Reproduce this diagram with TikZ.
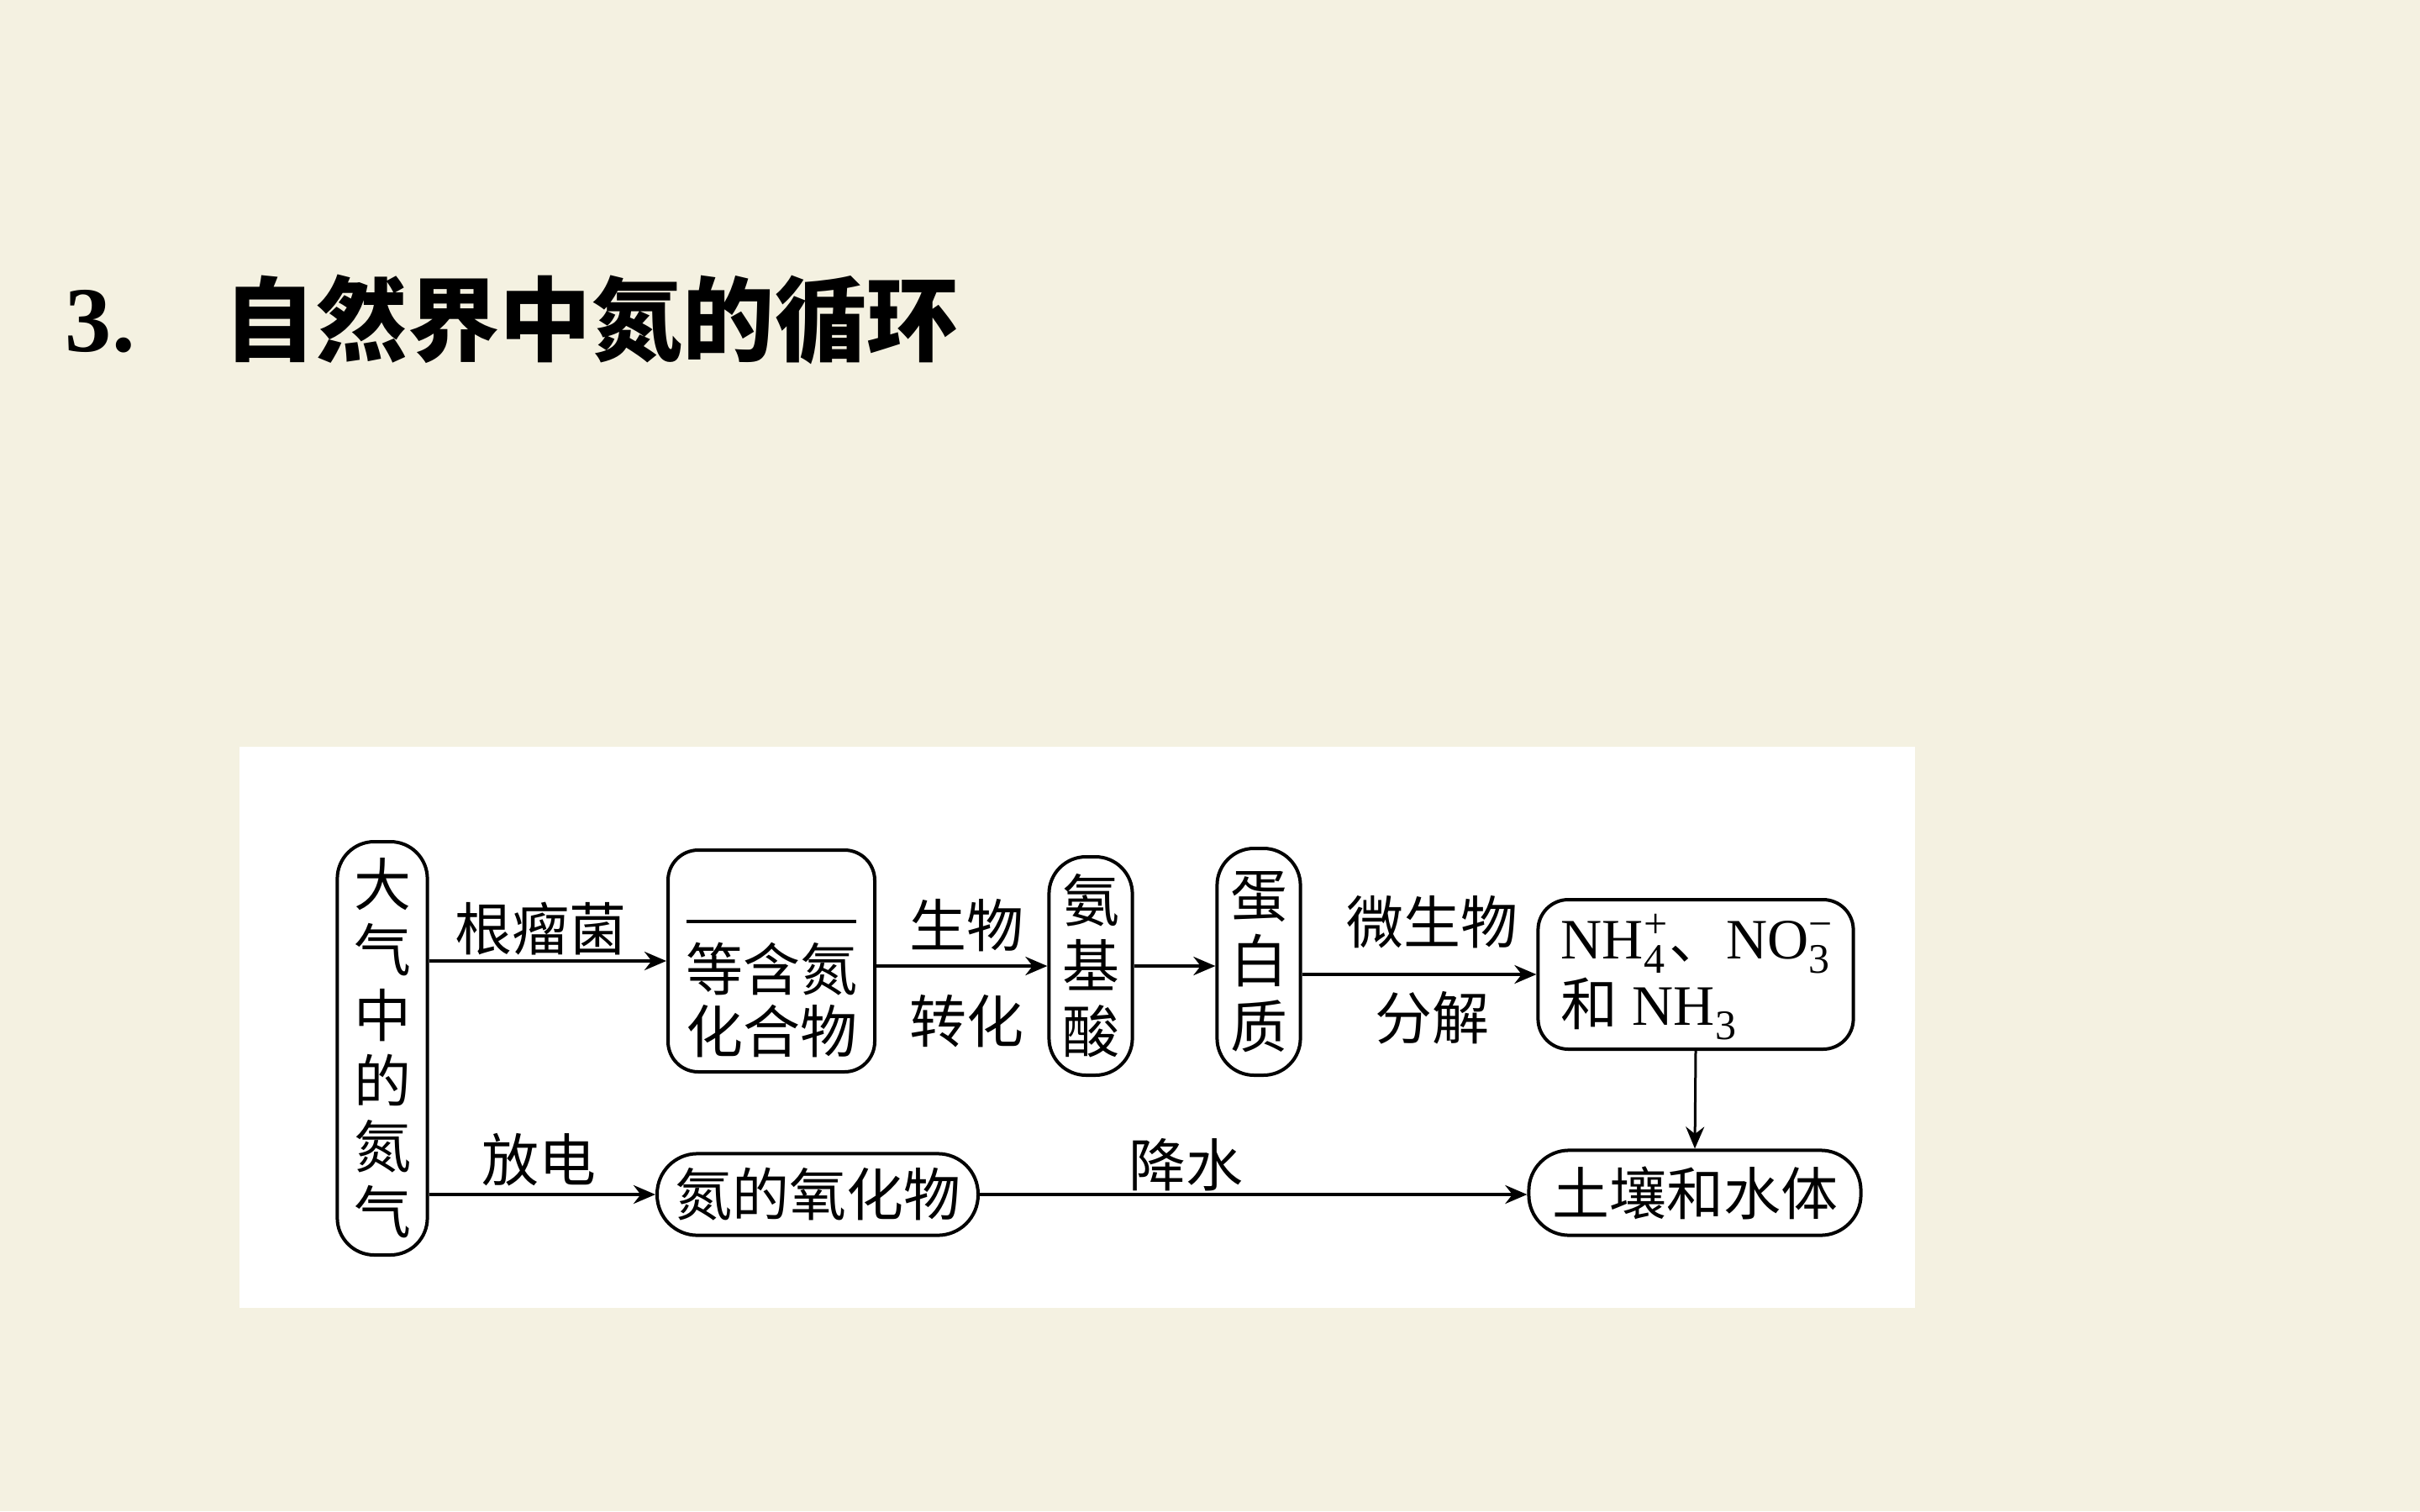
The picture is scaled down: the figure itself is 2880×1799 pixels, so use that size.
\documentclass[tikz,border=0pt]{standalone}
\usepackage{fontspec}
\setmainfont{Liberation Serif}
\newfontfamily\cjk{Noto Sans CJK SC}
\usetikzlibrary{arrows.meta}
\definecolor{bgc}{RGB}{244,241,225}
\newcommand\ionss[2]{\ensuremath{_{\hbox{\fontsize{12.5}{12.5}\selectfont#1}}^{\hbox{\fontsize{12.5}{12.5}\selectfont#2}}}}
\begin{document}
\begin{tikzpicture}[x=0.25pt,y=-0.25pt,
  box/.style={draw, line width=1pt, rounded corners=9pt, inner sep=0pt, align=center,
    font=\cjk\fontsize{17}{19.5}\selectfont},
  pill/.style={box, rounded corners=11pt},
  flat/.style={box, rounded corners=12pt},
  arr/.style={-{Stealth[length=6.5pt,width=5.5pt]}, line width=1pt},
  lab/.style={inner sep=0pt, font=\cjk\fontsize{17}{20}\selectfont}]
\fill[bgc] (0,0) rectangle (2880,1799);
\useasboundingbox (0,0) rectangle (2880,1799);
\fill[white] (285,889) rectangle (2279,1557);
% title
\node[anchor=west, inner sep=0pt, font=\bfseries\fontsize{27.6}{30}\selectfont] (t1) at (77,383) {3.};
\node[anchor=west, inner sep=0pt, font=\cjk\bfseries\fontsize{27.3}{30}\selectfont] (t2) at (266,380) {自然界中氮的循环};
% nodes
\node[pill, minimum width=26.8pt, minimum height=123pt] (L) at (455,1248) {大\\气\\中\\的\\氮\\气};
\node[box, minimum width=61.5pt, minimum height=66pt] (B2) at (918,1144) {};
\node[lab, align=center, font=\cjk\fontsize{17}{18.5}\selectfont] (B2t) at (918,1190) {等含氮\\化合物};
\coordinate (B2a) at (817,1097);
\coordinate (B2b) at (1019,1097);
\draw[line width=1pt] (B2a) -- (B2b);
\node[pill, minimum width=24.8pt, minimum height=65pt] (B3) at (1298,1150) {氨\\基\\酸};
\node[pill, minimum width=24.8pt, minimum height=67.5pt] (B4) at (1498,1145) {蛋\\白\\质};
\node[box, minimum width=93.8pt, minimum height=44.5pt] (B5) at (2018,1160) {};
\node[anchor=west, inner sep=0pt, align=left, font=\fontsize{17}{19.7}\selectfont] (B5t) at (1857,1163)
  {NH\ionss{4}{+}{\cjk 、}NO\ionss{3}{−}\\{\cjk 和} NH\ionss{3}{}};
\node[flat, minimum width=98.8pt, minimum height=25.3pt] (B6) at (2017,1420) {土壤和水体};
\node[flat, minimum width=95.5pt, minimum height=24.3pt] (B7) at (973,1422) {氮的氧化物};
% arrows
\draw[arr] (L.east |- B2.west) -- (B2.west);
\draw[arr] (B2.east |- B3.west) -- (B3.west);
\draw[arr] (B3.east) -- (B4.west |- B3.east);
\draw[arr] (B4.east |- B5.west) -- (B5.west);
\draw[arr, line width=0.75pt] (B5.south) -- (B6.north);
\draw[arr] (L.east |- B7.west) -- (B7.west);
\draw[arr] (B7.east) -- (B6.west |- B7.east);
% labels
\node[lab] (l1) at (643,1106) {根瘤菌};
\node[lab] (l2) at (1150,1102) {生物};
\node[lab] (l3) at (1150,1216) {转化};
\node[lab] (l4) at (1704,1098) {微生物};
\node[lab] (l5) at (1704,1212) {分解};
\node[lab] (l6) at (641,1381) {放电};
\node[lab] (l7) at (1411,1387) {降水};
\end{tikzpicture}
\end{document}
